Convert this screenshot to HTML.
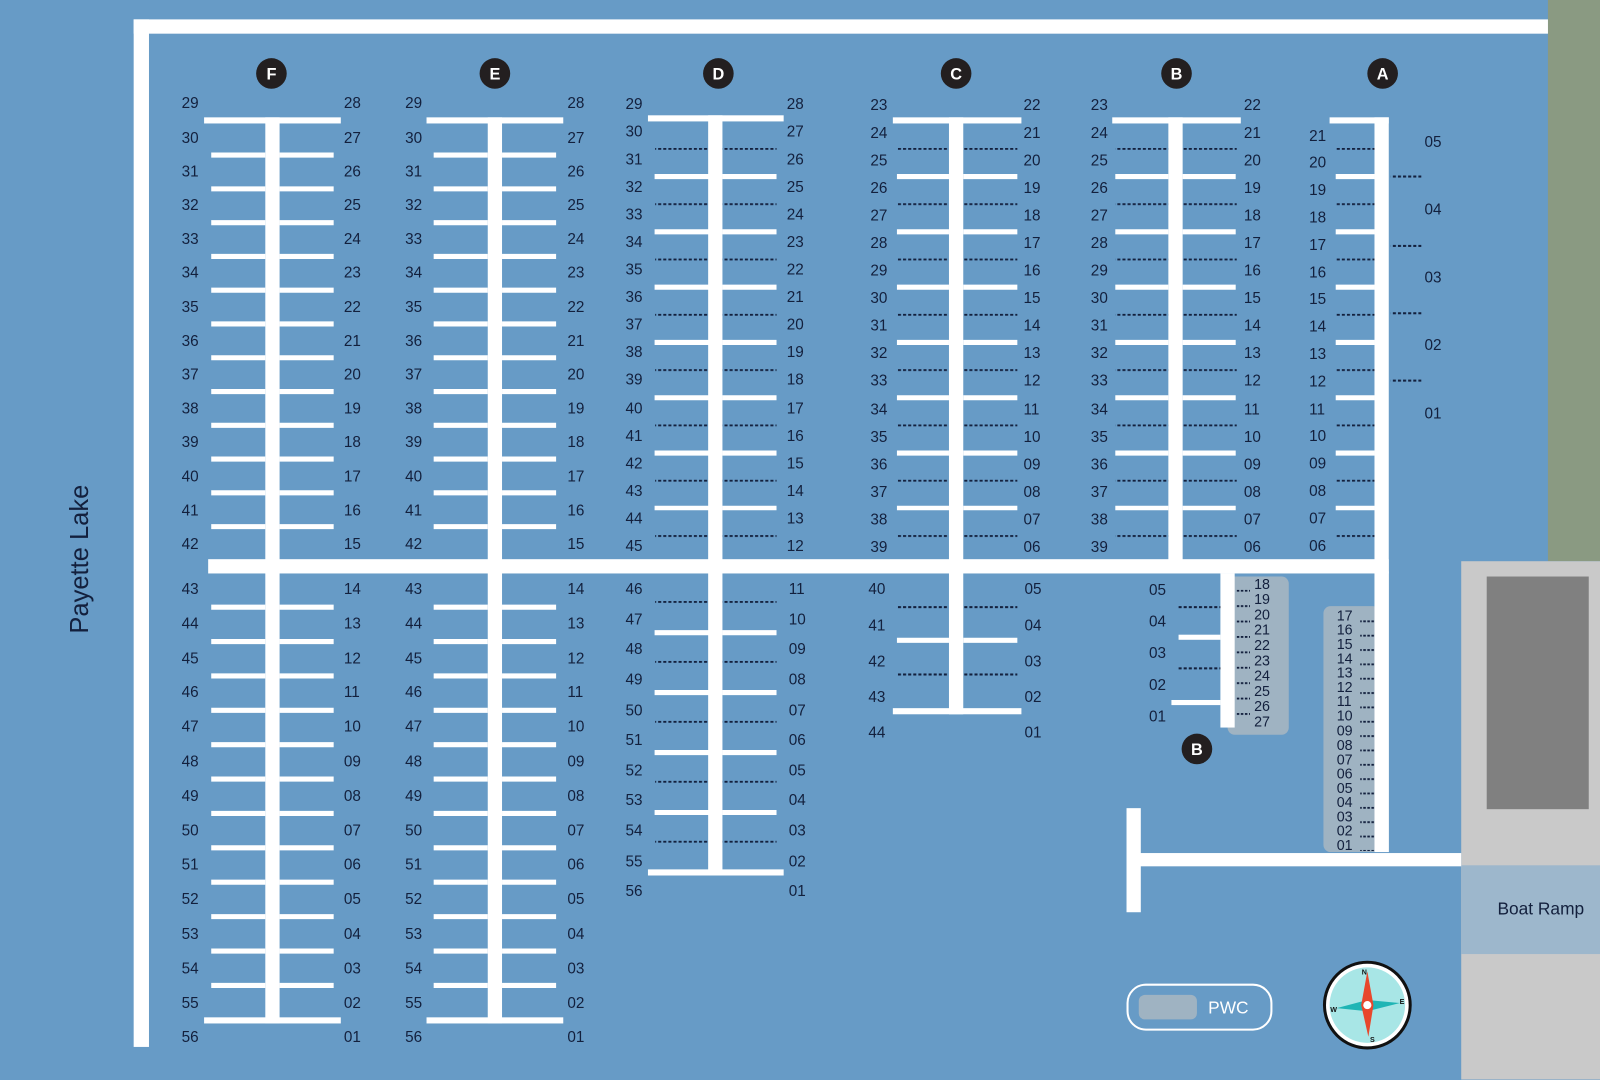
<!DOCTYPE html>
<html><head><meta charset="utf-8"><style>
body{margin:0;width:1600px;height:1058px;overflow:hidden;background:#679bc6;position:relative;font-family:"Liberation Sans",sans-serif;}
#w{position:absolute;left:0;top:0;width:1568px;height:1037px;transform:scale(1.0204);transform-origin:0 0}
svg{position:absolute;left:0;top:0}
.c{position:absolute;color:#13203d;font-size:15px;white-space:nowrap}
.s{font-size:14px}
</style></head><body><div id="w">
<svg width="1600" height="1058" viewBox="0 0 1600 1058">
<defs>
<pattern id="d54" patternUnits="userSpaceOnUse" x="0" y="145" width="5" height="54.2"><rect x="0" y="0" width="3" height="1.8" fill="#13203d"/></pattern>
<pattern id="d58" patternUnits="userSpaceOnUse" x="0" y="589" width="5" height="58.75"><rect x="0" y="0" width="3" height="1.8" fill="#13203d"/></pattern>
<pattern id="dh" patternUnits="userSpaceOnUse" x="0" y="0" width="5" height="2"><rect x="0" y="0" width="3" height="2" fill="#13203d"/></pattern>
</defs>
<rect x="1517" y="0" width="83" height="550" fill="#8a9a82"/>
<rect x="1432" y="550" width="168" height="508" fill="#c9c9c9"/>
<rect x="1457" y="565" width="100" height="228" fill="#808080"/>
<rect x="1432" y="848" width="168" height="87" fill="#9db7cc"/>
<rect x="131" y="19" width="1386" height="14" fill="#fff"/>
<rect x="131" y="19" width="15" height="1007" fill="#fff"/>
<rect x="204" y="548" width="1157" height="14" fill="#fff"/>
<rect x="1347" y="115" width="14" height="720" fill="#fff"/>
<rect x="1303" y="115" width="58" height="6" fill="#fff"/>
<rect x="1117" y="836" width="315" height="13" fill="#fff"/>
<rect x="1104" y="792" width="14" height="102" fill="#fff"/>
<g fill="#fff">
<rect x="260" y="115" width="14" height="888"/>
<rect x="200" y="115" width="134" height="6"/>
<rect x="200" y="997" width="134" height="6"/>
<rect x="478" y="115" width="14" height="888"/>
<rect x="418" y="115" width="134" height="6"/>
<rect x="418" y="997" width="134" height="6"/>
</g>
<g stroke="#fff">
<line x1="233.5" y1="149.5" x2="233.5" y2="520" stroke-width="53" stroke-dasharray="5 28.1"/>
<line x1="300.5" y1="149.5" x2="300.5" y2="520" stroke-width="53" stroke-dasharray="5 28.1"/>
<line x1="233.5" y1="592.5" x2="233.5" y2="970" stroke-width="53" stroke-dasharray="5 28.7"/>
<line x1="300.5" y1="592.5" x2="300.5" y2="970" stroke-width="53" stroke-dasharray="5 28.7"/>
<line x1="451.5" y1="149.5" x2="451.5" y2="520" stroke-width="53" stroke-dasharray="5 28.1"/>
<line x1="518.5" y1="149.5" x2="518.5" y2="520" stroke-width="53" stroke-dasharray="5 28.1"/>
<line x1="451.5" y1="592.5" x2="451.5" y2="970" stroke-width="53" stroke-dasharray="5 28.7"/>
<line x1="518.5" y1="592.5" x2="518.5" y2="970" stroke-width="53" stroke-dasharray="5 28.7"/>
</g>
<g fill="#fff">
<rect x="694" y="113" width="14" height="745"/>
<rect x="635" y="113" width="133" height="6"/>
<rect x="635" y="852" width="133" height="6"/>
</g>
<g stroke="#fff" stroke-width="53">
<line x1="668" y1="170.5" x2="668" y2="500" stroke-dasharray="5 49.2"/>
<line x1="734.5" y1="170.5" x2="734.5" y2="500" stroke-dasharray="5 49.2"/>
<line x1="668" y1="617.5" x2="668" y2="800" stroke-dasharray="5 53.75"/>
<line x1="734.5" y1="617.5" x2="734.5" y2="800" stroke-dasharray="5 53.75"/>
</g>
<rect x="642" y="145" width="52" height="384" fill="url(#d54)"/>
<rect x="708" y="145" width="53" height="384" fill="url(#d54)"/>
<rect x="642" y="589" width="52" height="240" fill="url(#d58)"/>
<rect x="708" y="589" width="53" height="240" fill="url(#d58)"/>
<g fill="#fff">
<rect x="930" y="115" width="14" height="585"/>
<rect x="875" y="115" width="126" height="6"/>
<rect x="875" y="694" width="126" height="6"/>
<rect x="879" y="625" width="51" height="5"/>
<rect x="944" y="625" width="53" height="5"/>
</g>
<g stroke="#fff" stroke-width="51">
<line x1="904.5" y1="170.5" x2="904.5" y2="500" stroke-dasharray="5 49.2"/>
<line x1="970.5" y1="170.5" x2="970.5" y2="500" stroke-dasharray="5 49.2" stroke-width="53"/>
</g>
<rect x="879" y="145" width="51" height="384" fill="url(#d54)"/>
<rect x="944" y="145" width="53" height="384" fill="url(#d54)"/>
<rect x="879" y="594" width="51" height="2" fill="url(#dh)"/>
<rect x="944" y="594" width="53" height="2" fill="url(#dh)"/>
<rect x="879" y="660" width="51" height="2" fill="url(#dh)"/>
<rect x="944" y="660" width="53" height="2" fill="url(#dh)"/>
<g fill="#fff">
<rect x="1145" y="115" width="14" height="440"/>
<rect x="1090" y="115" width="126" height="6"/>
</g>
<g stroke="#fff" stroke-width="52">
<line x1="1119" y1="170.5" x2="1119" y2="500" stroke-dasharray="5 49.2"/>
<line x1="1185" y1="170.5" x2="1185" y2="500" stroke-dasharray="5 49.2"/>
</g>
<rect x="1093" y="145" width="52" height="384" fill="url(#d54)"/>
<rect x="1159" y="145" width="53" height="384" fill="url(#d54)"/>
<line x1="1328" y1="170.5" x2="1328" y2="500" stroke="#fff" stroke-width="38" stroke-dasharray="5 49.2"/>
<rect x="1309" y="145" width="38" height="384" fill="url(#d54)"/>
<rect x="1363" y="172" width="30" height="2" fill="url(#dh)"/>
<rect x="1363" y="240" width="30" height="2" fill="url(#dh)"/>
<rect x="1363" y="306" width="30" height="2" fill="url(#dh)"/>
<rect x="1363" y="372" width="30" height="2" fill="url(#dh)"/>
<rect x="1203" y="565" width="60" height="155" rx="7" fill="#9fb3c2"/>
<rect x="1196" y="562" width="14" height="151" fill="#fff"/>
<rect x="1155" y="622" width="41" height="5" fill="#fff"/>
<rect x="1148" y="686" width="48" height="5" fill="#fff"/>
<rect x="1155" y="594" width="41" height="2" fill="url(#dh)"/>
<rect x="1155" y="654" width="41" height="2" fill="url(#dh)"/>
<pattern id="bp" patternUnits="userSpaceOnUse" x="0" y="578" width="4" height="15.1"><rect width="2.5" height="1.8" fill="#13203d"/></pattern>
<rect x="1212" y="578" width="13" height="130" fill="url(#bp)"/>
<rect x="1297" y="594" width="55" height="241" rx="7" fill="#9fb3c2"/>
<rect x="1347" y="560" width="14" height="275" fill="#fff"/>
<pattern id="ap" patternUnits="userSpaceOnUse" x="0" y="608" width="4" height="14.06"><rect width="2.5" height="1.8" fill="#13203d"/></pattern>
<rect x="1333" y="606" width="14" height="228" fill="url(#ap)"/>
<g fill="#231f20">
<circle cx="266" cy="72" r="15"/><circle cx="485" cy="72" r="15"/><circle cx="704" cy="72" r="15"/>
<circle cx="937" cy="72" r="15"/><circle cx="1153" cy="72" r="15"/><circle cx="1355" cy="72" r="15"/>
<circle cx="1173" cy="734" r="15"/>
</g>
<g fill="#fff" font-family="Liberation Sans" font-weight="bold" font-size="16" text-anchor="middle">
<text x="266" y="78">F</text><text x="485" y="78">E</text><text x="704" y="78">D</text>
<text x="937" y="78">C</text><text x="1153" y="78">B</text><text x="1355" y="78">A</text>
<text x="1173" y="740">B</text>
</g>
<rect x="1105" y="965" width="141" height="44" rx="18" fill="none" stroke="#fff" stroke-width="2"/>
<rect x="1116" y="975" width="57" height="24" rx="6" fill="#9fb3c2"/>
<text x="1184" y="993" fill="#fff" font-family="Liberation Sans" font-size="17">PWC</text>
<circle cx="1340" cy="985" r="42" fill="#fff" stroke="#111" stroke-width="3"/>
<circle cx="1340" cy="985" r="37" fill="#a8e6e6"/>
<polygon points="1310,988 1340,980 1372,983 1340,991" fill="#1fb5b5"/>
<polygon points="1340,952 1346,985 1341,1016 1334,985" fill="#e8472c"/>
<circle cx="1340" cy="985" r="4" fill="#fff"/>
<g font-family="Liberation Sans" font-size="7" font-weight="bold" fill="#111" text-anchor="middle">
<text x="1337" y="955">N</text><text x="1345" y="1021">S</text><text x="1307" y="992">W</text><text x="1374" y="984">E</text>
</g>
<text x="0" y="0" transform="translate(86,548) rotate(-90)" text-anchor="middle" font-family="Liberation Sans" font-size="25" fill="#13203d">Payette Lake</text>
<text x="1510" y="896" text-anchor="middle" font-family="Liberation Sans" font-size="17" fill="#13203d">Boat Ramp</text>
</svg>

<div class="c" style="left:178px;top:85.4px;line-height:33.2px">29<br>30<br>31<br>32<br>33<br>34<br>35<br>36<br>37<br>38<br>39<br>40<br>41<br>42</div>
<div class="c" style="left:337px;top:85.4px;line-height:33.2px">28<br>27<br>26<br>25<br>24<br>23<br>22<br>21<br>20<br>19<br>18<br>17<br>16<br>15</div>
<div class="c" style="left:178px;top:561.1px;line-height:33.8px">43<br>44<br>45<br>46<br>47<br>48<br>49<br>50<br>51<br>52<br>53<br>54<br>55<br>56</div>
<div class="c" style="left:337px;top:561.1px;line-height:33.8px">14<br>13<br>12<br>11<br>10<br>09<br>08<br>07<br>06<br>05<br>04<br>03<br>02<br>01</div>
<div class="c" style="left:397px;top:85.4px;line-height:33.2px">29<br>30<br>31<br>32<br>33<br>34<br>35<br>36<br>37<br>38<br>39<br>40<br>41<br>42</div>
<div class="c" style="left:556px;top:85.4px;line-height:33.2px">28<br>27<br>26<br>25<br>24<br>23<br>22<br>21<br>20<br>19<br>18<br>17<br>16<br>15</div>
<div class="c" style="left:397px;top:561.1px;line-height:33.8px">43<br>44<br>45<br>46<br>47<br>48<br>49<br>50<br>51<br>52<br>53<br>54<br>55<br>56</div>
<div class="c" style="left:556px;top:561.1px;line-height:33.8px">14<br>13<br>12<br>11<br>10<br>09<br>08<br>07<br>06<br>05<br>04<br>03<br>02<br>01</div>
<div class="c" style="left:613px;top:88.5px;line-height:27.1px">29<br>30<br>31<br>32<br>33<br>34<br>35<br>36<br>37<br>38<br>39<br>40<br>41<br>42<br>43<br>44<br>45</div>
<div class="c" style="left:771px;top:88.5px;line-height:27.1px">28<br>27<br>26<br>25<br>24<br>23<br>22<br>21<br>20<br>19<br>18<br>17<br>16<br>15<br>14<br>13<br>12</div>
<div class="c" style="left:613px;top:563.2px;line-height:29.6px">46<br>47<br>48<br>49<br>50<br>51<br>52<br>53<br>54<br>55<br>56</div>
<div class="c" style="left:773px;top:563.2px;line-height:29.6px">11<br>10<br>09<br>08<br>07<br>06<br>05<br>04<br>03<br>02<br>01</div>
<div class="c" style="left:853px;top:89.5px;line-height:27.1px">23<br>24<br>25<br>26<br>27<br>28<br>29<br>30<br>31<br>32<br>33<br>34<br>35<br>36<br>37<br>38<br>39</div>
<div class="c" style="left:1003px;top:89.5px;line-height:27.1px">22<br>21<br>20<br>19<br>18<br>17<br>16<br>15<br>14<br>13<br>12<br>11<br>10<br>09<br>08<br>07<br>06</div>
<div class="c" style="left:851px;top:560.4px;line-height:35.2px">40<br>41<br>42<br>43<br>44</div>
<div class="c" style="left:1004px;top:560.4px;line-height:35.2px">05<br>04<br>03<br>02<br>01</div>
<div class="c" style="left:1069px;top:89.5px;line-height:27.1px">23<br>24<br>25<br>26<br>27<br>28<br>29<br>30<br>31<br>32<br>33<br>34<br>35<br>36<br>37<br>38<br>39</div>
<div class="c" style="left:1219px;top:89.5px;line-height:27.1px">22<br>21<br>20<br>19<br>18<br>17<br>16<br>15<br>14<br>13<br>12<br>11<br>10<br>09<br>08<br>07<br>06</div>
<div class="c" style="left:1126px;top:562.5px;line-height:31px">05<br>04<br>03<br>02<br>01</div>
<div class="c s" style="left:1229px;top:564.5px;line-height:15.1px">18<br>19<br>20<br>21<br>22<br>23<br>24<br>25<br>26<br>27</div>
<div class="c" style="left:1283px;top:120.6px;line-height:26.8px">21<br>20<br>19<br>18<br>17<br>16<br>15<br>14<br>13<br>12<br>11<br>10<br>09<br>08<br>07<br>06</div>
<div class="c" style="left:1396px;top:106.8px;line-height:66.5px">05<br>04<br>03<br>02<br>01</div>
<div class="c s" style="left:1310px;top:596px;line-height:14.06px">17<br>16<br>15<br>14<br>13<br>12<br>11<br>10<br>09<br>08<br>07<br>06<br>05<br>04<br>03<br>02<br>01</div>
</div></body></html>
